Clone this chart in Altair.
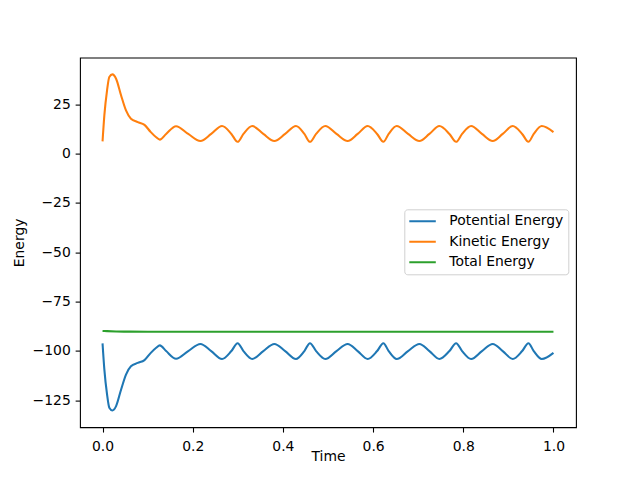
import altair as alt
import pandas as pd

# Time samples for potential / kinetic energy curves
time = [0.000, 0.004, 0.010, 0.015, 0.022, 0.030, 0.041, 0.052, 0.063, 0.078,
        0.093, 0.107, 0.119, 0.127, 0.141, 0.163, 0.190, 0.217, 0.241, 0.265,
        0.2857, 0.2995, 0.3125, 0.332, 0.3565, 0.381, 0.405, 0.429, 0.4476, 0.460,
        0.4736, 0.494, 0.5188, 0.5436, 0.5658, 0.588, 0.6089, 0.6228, 0.6346, 0.6523,
        0.6775, 0.7027, 0.7249, 0.747, 0.7693, 0.7841, 0.7974, 0.8174, 0.8414, 0.8653,
        0.8875, 0.9097, 0.9306, 0.9445, 0.9563, 0.974, 1.000]

kinetic = [6.2, 19.4, 32.1, 38.9, 40.2, 38.0, 29.6, 21.9, 17.7, 16.0,
           14.6, 10.9, 8.3, 7.1, 10.0, 13.9, 10.0, 6.4, 10.0, 14.0,
           10.0, 6.0, 10.0, 14.0, 10.0, 6.4, 10.0, 14.0, 10.0, 6.0,
           10.0, 14.0, 10.0, 6.4, 10.0, 14.0, 10.0, 6.0, 10.0, 14.0,
           10.0, 6.4, 10.0, 14.0, 10.0, 6.0, 10.0, 14.0, 10.0, 6.4,
           10.0, 14.0, 10.0, 6.0, 10.0, 14.0, 10.9]

potential = [-96.2, -109.4, -122.1, -128.8, -130.2, -128.0, -119.7, -112.0, -107.8, -106.1,
             -104.7, -101.0, -98.4, -97.2, -100.1, -104.0, -100.1, -96.5, -100.1, -104.1,
             -100.1, -96.1, -100.1, -104.1, -100.1, -96.5, -100.1, -104.1, -100.1, -96.1,
             -100.1, -104.1, -100.1, -96.5, -100.1, -104.1, -100.1, -96.1, -100.1, -104.1,
             -100.1, -96.5, -100.1, -104.1, -100.1, -96.1, -100.1, -104.1, -100.1, -96.5,
             -100.1, -104.1, -100.1, -96.1, -100.1, -104.1, -101.0]

total_time = [0.0, 0.01, 0.03, 0.06, 0.1, 0.5, 1.0]
total = [-89.9, -90.0, -90.15, -90.25, -90.3, -90.3, -90.3]

series_names = ["Potential Energy", "Kinetic Energy", "Total Energy"]
series_colors = ["#1f77b4", "#ff7f0e", "#2ca02c"]
x_ticks = [0.0, 0.2, 0.4, 0.6, 0.8, 1.0]
y_ticks = [-125, -100, -75, -50, -25, 0, 25]

rows = []
for t, v in zip(time, potential):
    rows.append({"t": t, "value": v, "series": series_names[0]})
for t, v in zip(time, kinetic):
    rows.append({"t": t, "value": v, "series": series_names[1]})
for t, v in zip(total_time, total):
    rows.append({"t": t, "value": v, "series": series_names[2]})
df = pd.DataFrame(rows)

FONT = "DejaVu Sans"
FS = 13.9

chart = alt.Chart(df).mark_line(interpolate="monotone", strokeWidth=2.08).encode(
    x=alt.X("t:Q",
            scale=alt.Scale(domain=[-0.05, 1.05], nice=False, zero=False),
            axis=alt.Axis(values=x_ticks, format=".1f", title="Time",
                          labelPadding=7, titlePadding=-3)),
    y=alt.Y("value:Q",
            scale=alt.Scale(domain=[-138.7, 48.7], nice=False, zero=False),
            axis=alt.Axis(values=y_ticks, format="d", title="Energy",
                          titlePadding=6)),
    color=alt.Color("series:N",
                    scale=alt.Scale(domain=series_names, range=series_colors),
                    legend=alt.Legend(title=None, orient="none",
                                      legendX=324.3, legendY=151.7,
                                      symbolType="stroke", symbolSize=841,
                                      symbolStrokeWidth=2.08, clipHeight=14,
                                      symbolOffset=-4,
                                      rowPadding=6.5, labelOffset=12,
                                      padding=5, strokeColor="#d0d0d0",
                                      fillColor="rgba(255,255,255,0.8)",
                                      cornerRadius=3,
                                      labelFont=FONT, labelFontSize=FS,
                                      labelColor="black")),
    order=alt.Order("t:Q"),
).properties(
    width=496, height=369.6,
    autosize=alt.AutoSizeParams(type="none"),
    padding={"left": 72, "top": 49.6, "right": 56, "bottom": 44.8},
).configure(font=FONT).configure_view(
    stroke="black", strokeWidth=1.1
).configure_axis(
    grid=False, domain=False, ticks=True, tickColor="black", tickWidth=1.1,
    tickSize=4.86, labelPadding=4.86, labelColor="black", labelFont=FONT,
    labelFontSize=FS, titleFont=FONT, titleFontSize=FS,
    titleFontWeight="normal", titleColor="black"
)

chart.save("out.html", embed_options={"renderer": "svg", "actions": False})
